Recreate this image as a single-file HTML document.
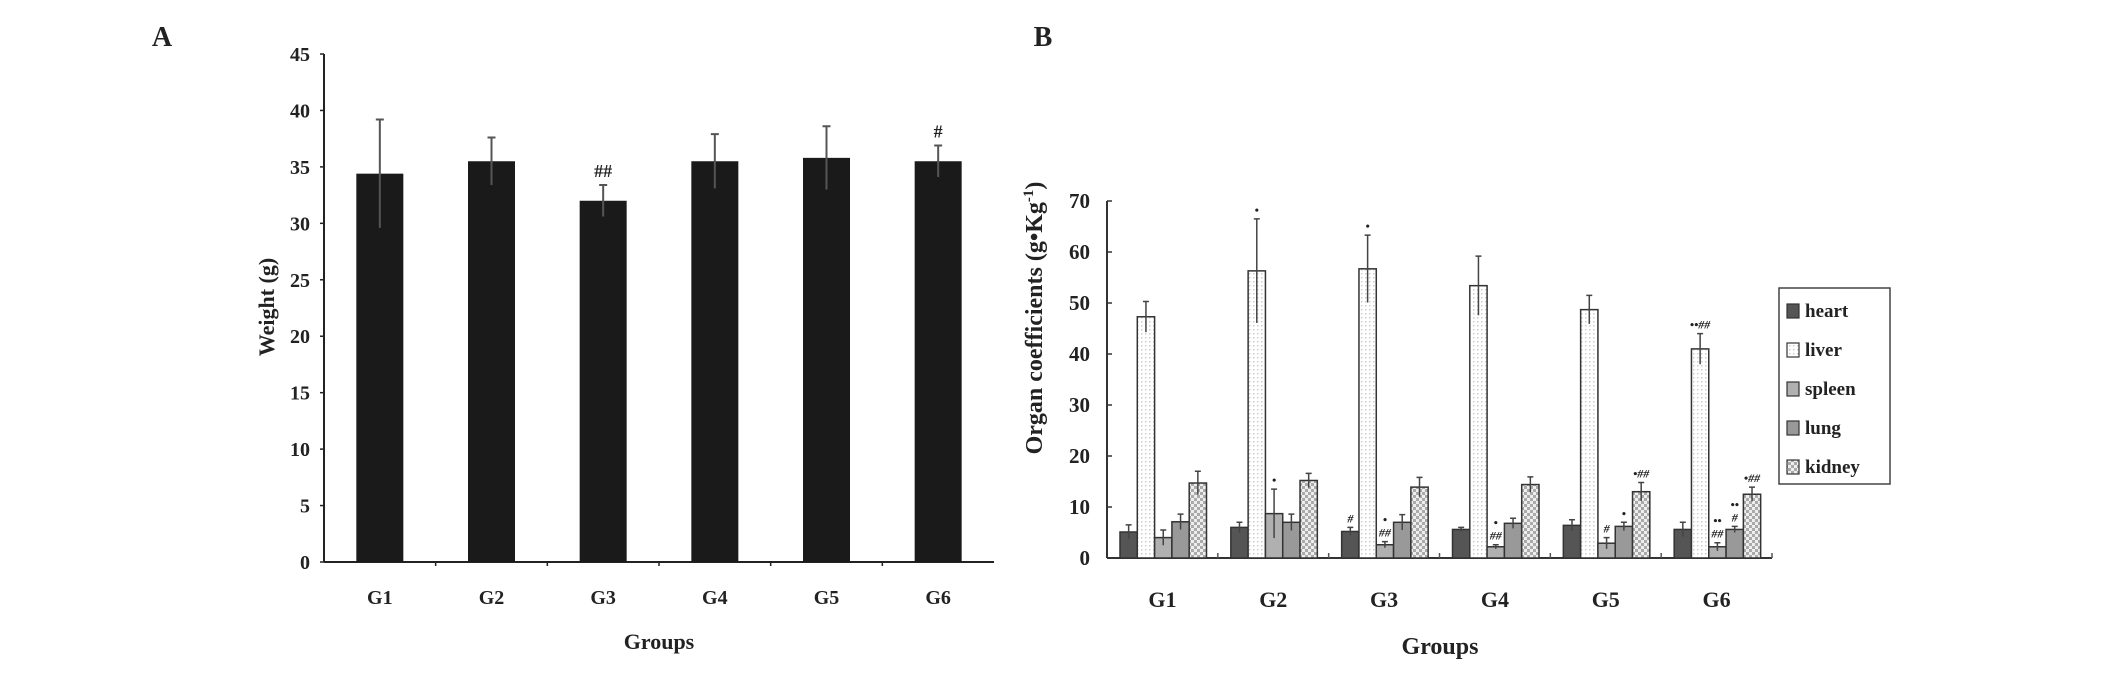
<!DOCTYPE html>
<html><head><meta charset="utf-8"><style>
html,body{margin:0;padding:0;background:#fff}
svg text{font-family:"Liberation Serif",serif;font-weight:bold;fill:#222}
</style></head><body>
<svg id="c" width="2124" height="669" viewBox="0 0 2124 669" xmlns="http://www.w3.org/2000/svg">
<defs>
<pattern id="dots" width="4" height="4" patternUnits="userSpaceOnUse"><rect width="4" height="4" fill="#fff"/><rect x="1" y="1" width="1.5" height="1.5" fill="#ccc"/></pattern>
<pattern id="check" width="6" height="6" patternUnits="userSpaceOnUse"><rect width="6" height="6" fill="#eee"/><rect x="0" y="0" width="3" height="3" fill="#aaa"/><rect x="3" y="3" width="3" height="3" fill="#aaa"/></pattern>
</defs>
<text x="162" y="46" font-size="28" text-anchor="middle">A</text>
<text x="1043" y="46" font-size="28" text-anchor="middle">B</text>
<g id="A"></g><g id="B"></g>
</svg>
<script>
const NS="http://www.w3.org/2000/svg";
function mk(p,t,a,txt){const e=document.createElementNS(NS,t);for(const k in a)e.setAttribute(k,a[k]);if(txt!==undefined)e.textContent=txt;p.appendChild(e);return e;}
// Panel A data
const groupsA=["G1","G2","G3","G4","G5","G6"];
const weight=[34.4,35.5,32.0,35.5,35.8,35.5];
const weightErr=[4.8,2.1,1.4,2.4,2.8,1.4];
const weightMarks=["","","##","","","#"];
const ticksA=[0,5,10,15,20,25,30,35,40,45];
// Panel B data
const groupsB=["G1","G2","G3","G4","G5","G6"];
const organs=["heart","liver","spleen","lung","kidney"];
const heart=[5.1,6.0,5.2,5.6,6.4,5.6];
const liver=[47.3,56.3,56.7,53.4,48.7,41.0];
const spleen=[4.0,8.7,2.6,2.2,2.9,2.2];
const lung=[7.1,7.0,7.0,6.8,6.2,5.6];
const kidney=[14.7,15.2,13.9,14.4,13.0,12.5];
const heartErr=[1.4,1.0,0.8,0.4,1.1,1.4];
const liverErr=[3.0,10.2,6.6,5.8,2.8,3.0];
const spleenErr=[1.5,4.8,0.6,0.4,1.1,0.8];
const lungErr=[1.5,1.6,1.5,1.0,0.8,0.6];
const kidneyErr=[2.3,1.4,1.9,1.5,1.8,1.4];
const marksB=[
 ["","","","",""],
 ["","*","*","",""],
 ["#","*","*\n##","",""],
 ["","","*\n##","",""],
 ["","","#","*","*##"],
 ["","**##","**\n##","**\n#","*##"]];
const ticksB=[0,10,20,30,40,50,60,70];

// ---- Panel A ----
const A=document.getElementById('A');
const ax0=324,ax1=994,ay0=562,ay1=54,amax=45;
const ya=v=>ay0-(v/amax)*(ay0-ay1);
const bwA=(ax1-ax0)/groupsA.length;
mk(A,'line',{x1:ax0,y1:ay1,x2:ax0,y2:ay0,stroke:'#222','stroke-width':2,});
mk(A,'line',{x1:ax0,y1:ay0,x2:ax1,y2:ay0,stroke:'#222','stroke-width':2,});
ticksA.forEach(t=>{
 const l=mk(A,'line',{x1:ax0-4,y1:ya(t),x2:ax0,y2:ya(t),stroke:'#222','stroke-width':1.5});
 
 
 const tx=mk(A,'text',{x:ax0-14,y:ya(t)+7,'font-size':20,'text-anchor':'end'},String(t));
 
 
});
groupsA.forEach((g,i)=>{
 const cx=ax0+bwA*(i+0.5);
 if(i>0){const tk=mk(A,'line',{x1:ax0+bwA*i,y1:ay0,x2:ax0+bwA*i,y2:ay0+4,stroke:'#222','stroke-width':1.5});
 
 }
 const b=mk(A,'rect',{x:cx-23.5,y:ya(weight[i]),width:47,height:ay0-ya(weight[i]),fill:'#1a1a1a'});
 
 
 const hi=ya(weight[i]+weightErr[i]),lo=ya(weight[i]-weightErr[i]);
 const e=mk(A,'path',{d:`M${cx},${lo}V${hi}M${cx-4},${hi}H${cx+4}`,stroke:'#555','stroke-width':2,fill:'none'});
 
 
 if(weightMarks[i]){const m=mk(A,'text',{x:cx,y:hi-8,'font-size':18,'text-anchor':'middle','font-weight':'normal'},weightMarks[i]);
 
 }
 const gl=mk(A,'text',{x:cx,y:604,'font-size':20,'text-anchor':'middle'},g);
 
 
});
const ta=mk(A,'text',{x:ax0+335,y:649,'font-size':22,'text-anchor':'middle'},'Groups');

const tya=mk(A,'text',{x:0,y:0,'font-size':22,'text-anchor':'middle',transform:'translate(274,307) rotate(-90)'},'Weight (g)');


// ---- Panel B ----
const B=document.getElementById('B');
const bx0=1107,bx1=1772,by0=558,by1=201,bmax=70;
const yb=v=>by0-(v/bmax)*(by0-by1);
const gw=(bx1-bx0)/groupsB.length, bw=17.3;
const vals=[heart,liver,spleen,lung,kidney], errs=[heartErr,liverErr,spleenErr,lungErr,kidneyErr];
const fills=['#555','url(#dots)','#b0b0b0','#999','url(#check)'];
mk(B,'line',{x1:bx0,y1:by1,x2:bx0,y2:by0,stroke:'#333','stroke-width':2,});
mk(B,'line',{x1:bx0,y1:by0,x2:bx1,y2:by0,stroke:'#333','stroke-width':2,});
ticksB.forEach(t=>{
 const l=mk(B,'line',{x1:bx0,y1:yb(t),x2:bx0+5,y2:yb(t),stroke:'#333','stroke-width':1.5});
 
 const tx=mk(B,'text',{x:1090,y:yb(t)+7,'font-size':21,'text-anchor':'end'},String(t));
 
});
groupsB.forEach((g,i)=>{
 const gx=bx0+gw*i+13;
 const tk=mk(B,'line',{x1:bx0+gw*(i+1),y1:by0,x2:bx0+gw*(i+1),y2:by0-5,stroke:'#555','stroke-width':1.5});
 
 organs.forEach((o,k)=>{
  const v=vals[k][i],x=gx+bw*k,cx=x+bw/2;
  const r=mk(B,'rect',{x:x,y:yb(v),width:bw,height:by0-yb(v),fill:fills[k],stroke:'#333','stroke-width':1.5});
  
  
  const hi=yb(v+errs[k][i]),lo=yb(v-errs[k][i]);
  const e=mk(B,'path',{d:`M${cx},${lo}V${hi}M${cx-3},${hi}H${cx+3}`,stroke:'#444','stroke-width':1.5,fill:'none'});
  
  const m=marksB[i][k];
  if(m){m.split('\n').reverse().forEach((s,j)=>{
   const t=mk(B,'text',{x:cx,y:hi-5-j*13,'font-size':12,'text-anchor':'middle','font-style':'italic','fill':'#333'},s.replace(/\*/g,'•'));
   
  });}
 });
 const gl=mk(B,'text',{x:bx0+gw*(i+0.5),y:607,'font-size':22,'text-anchor':'middle'},g);
 
});
const tb=mk(B,'text',{x:1440,y:654,'font-size':24,'text-anchor':'middle'},'Groups');

const tyb=mk(B,'text',{x:0,y:0,'font-size':24,'text-anchor':'middle',transform:'translate(1042,318) rotate(-90)'});

tyb.innerHTML='Organ coefficients (g•Kg<tspan dy="-9" font-size="15">-1</tspan><tspan dy="9">)</tspan>';
// legend
const lg=mk(B,'g',{});

mk(lg,'rect',{x:1779,y:288,width:111,height:196,fill:'#fff',stroke:'#444','stroke-width':1.5});
organs.forEach((o,k)=>{
 const y=312+k*39;
 const ent=mk(lg,'g',{});
 
 mk(ent,'rect',{x:1787,y:y-8,width:12,height:14,fill:fills[k],stroke:'#333','stroke-width':1.2});
 mk(ent,'text',{x:1805,y:y+5,'font-size':19,'font-weight':'normal'},o);
});
</script>
</body></html>
